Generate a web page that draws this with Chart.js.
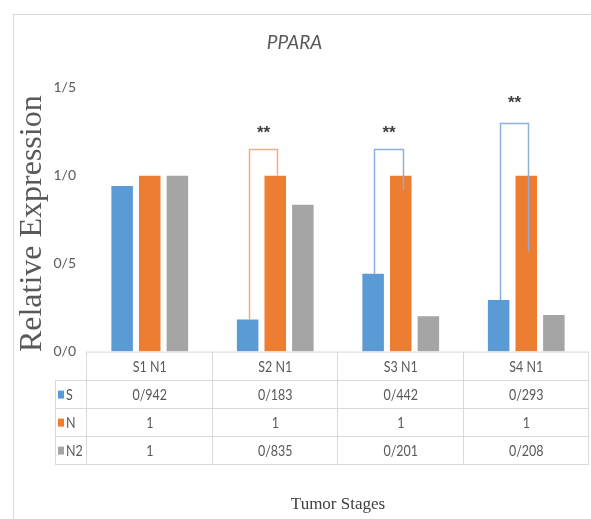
<!DOCTYPE html>
<html>
<head>
<meta charset="utf-8">
<script src="https://cdn.jsdelivr.net/npm/chart.js@4/dist/chart.umd.min.js"></script>
<style>
  html, body { margin: 0; padding: 0; background: #fff; }
  #wrap { width: 591px; height: 519px; }
</style>
</head>
<body>
<div id="wrap"><canvas id="chart" width="591" height="519"></canvas></div>
<script>
// values
const categories = ["S1 N1", "S2 N1", "S3 N1", "S4 N1"];
const seriesNames = ["S", "N", "N2"];
const sValues = [0.942, 0.183, 0.442, 0.293];
const nValues = [1, 1, 1, 1];
const n2Values = [1, 0.835, 0.201, 0.208];

// significance brackets (null = none)
const bracketTop = [null, 1.15, 1.15, 1.30];
const bracketRightEnd = [null, 1.0, 0.92, 0.57];
const starLevel = [null, 1.27, 1.27, 1.44];
const starText = ["", "**", "**", "**"];
const bracketColors = [null, "#EFAE84", "#8EAEDC", "#8EAEDC"];

const colors = ["#5B9BD5", "#ED7D31", "#A5A5A5"];
const sans = "Lato, 'Open Sans', sans-serif";
const serif = "'Liberation Serif', 'DejaVu Serif', serif";

// Persian-style decimal separator used in the original
const fmt = v => String(v).replace(".", "/");

// narrow text like the Calibri in the original
function narrowText(ctx, text, x, y, align) {
    ctx.save();
    ctx.translate(x, y);
    ctx.scale(0.78, 1);
    ctx.textAlign = align || "center";
    ctx.fillText(text, 0, 0);
    ctx.restore();
}

const frame = {
    id: "frame",
    beforeDraw(chart) {
        const ctx = chart.ctx;
        ctx.save();
        ctx.fillStyle = "#fff";
        ctx.fillRect(0, 0, chart.width, chart.height);
        ctx.strokeStyle = "#D9D9D9";
        ctx.lineWidth = 1;
        ctx.strokeRect(13.5, 14.5, 700, 700);
        ctx.restore();
    }
};

const brackets = {
    id: "brackets",
    afterDatasetsDraw(chart) {
        const ctx = chart.ctx;
        const y = chart.scales.y;
        const sMeta = chart.getDatasetMeta(0);
        const nMeta = chart.getDatasetMeta(1);
        ctx.save();
        categories.forEach((c, i) => {
            if (bracketTop[i] == null) return;
            const xl = Math.round(sMeta.data[i].x) + 1.5;
            const xr = Math.round(nMeta.data[i].x) + 2.5;
            const yt = Math.round(y.getPixelForValue(bracketTop[i])) + 0.5;
            ctx.strokeStyle = bracketColors[i];
            ctx.lineWidth = 1.5;
            ctx.beginPath();
            ctx.moveTo(xl, y.getPixelForValue(sValues[i]));
            ctx.lineTo(xl, yt);
            ctx.lineTo(xr, yt);
            ctx.lineTo(xr, y.getPixelForValue(bracketRightEnd[i]));
            ctx.stroke();
            ctx.fillStyle = "#404040";
            ctx.font = "bold 17px 'Liberation Sans', Arial, sans-serif";
            ctx.textAlign = "center";
            ctx.textBaseline = "middle";
            ctx.fillText(starText[i], (xl + xr) / 2, y.getPixelForValue(starLevel[i]) + 5);
        });
        ctx.restore();
    }
};

// data table under the plot
const dataTable = {
    id: "dataTable",
    afterDraw(chart) {
        const ctx = chart.ctx;
        const x = chart.scales.x;
        const area = chart.chartArea;
        const colW = x.width / categories.length;
        const headH = 28;
        const rowH = 28;
        const top = area.bottom;
        const legendLeft = 55;
        const rows = [sValues, nValues, n2Values];
        const bottom = top + headH + rowH * rows.length;

        ctx.save();
        ctx.strokeStyle = "#D9D9D9";
        ctx.lineWidth = 1;
        ctx.beginPath();
        ctx.moveTo(area.left, top + 0.5);
        ctx.lineTo(area.right, top + 0.5);
        for (let r = 0; r <= rows.length; r++) {
            const yy = Math.round(top + headH + r * rowH) + 0.5;
            ctx.moveTo(legendLeft, yy);
            ctx.lineTo(area.right, yy);
        }
        ctx.moveTo(legendLeft + 0.5, top + headH);
        ctx.lineTo(legendLeft + 0.5, bottom);
        for (let i = 0; i <= categories.length; i++) {
            const xx = Math.round(area.left + i * colW) - 0.5;
            ctx.moveTo(xx, top);
            ctx.lineTo(xx, bottom);
        }
        ctx.stroke();

        ctx.fillStyle = "#595959";
        ctx.font = "16px " + sans;
        ctx.textBaseline = "middle";
        categories.forEach((c, i) => {
            narrowText(ctx, c, x.getPixelForValue(i), top + headH / 2 + 1);
        });
        rows.forEach((vals, r) => {
            const cy = top + headH + r * rowH + rowH / 2 + 1;
            ctx.fillStyle = colors[r];
            ctx.fillRect(legendLeft + 3, cy - 4, 6, 8);
            ctx.fillStyle = "#595959";
            narrowText(ctx, seriesNames[r], legendLeft + 11, cy, "left");
            vals.forEach((v, i) => narrowText(ctx, fmt(v), x.getPixelForValue(i), cy));
        });
        ctx.restore();
    }
};

new Chart(document.getElementById("chart"), {
    type: "bar",
    data: {
        labels: categories,
        datasets: [
            { label: seriesNames[0], data: sValues, backgroundColor: colors[0] },
            { label: seriesNames[1], data: nValues, backgroundColor: colors[1] },
            { label: seriesNames[2], data: n2Values, backgroundColor: colors[2] }
        ]
    },
    options: {
        responsive: false,
        animation: false,
        categoryPercentage: 0.66,
        barPercentage: 0.78,
        layout: { padding: { left: 0, right: 2, top: 0, bottom: 0 } },
        plugins: {
            legend: { display: false },
            tooltip: { enabled: false },
            title: {
                display: true,
                text: "PPARA",
                color: "#595959",
                font: { family: sans, size: 19, style: "italic", weight: "normal" },
                padding: { top: 31, bottom: 34 }
            }
        },
        scales: {
            x: {
                grid: { display: false, drawTicks: false },
                border: { display: false },
                ticks: { display: false },
                title: {
                    display: true,
                    text: "Tumor Stages",
                    color: "#404040",
                    font: { family: serif, size: 17 },
                    padding: { top: 143, bottom: 4 }
                }
            },
            y: {
                min: 0,
                max: 1.5,
                afterFit(scale) { scale.width = 87; },
                grid: { display: false, drawTicks: false },
                border: { display: false },
                ticks: {
                    stepSize: 0.5,
                    padding: 11,
                    color: "#595959",
                    font: { family: sans, size: 14 },
                    callback: v => v.toFixed(1).replace(".", "/")
                },
                title: {
                    display: true,
                    text: "Relative Expression ",
                    color: "#595959",
                    font: { family: serif, size: 32 },
                    padding: { top: 13, bottom: 0 }
                }
            }
        }
    },
    plugins: [frame, brackets, dataTable]
});
</script>
</body>
</html>
